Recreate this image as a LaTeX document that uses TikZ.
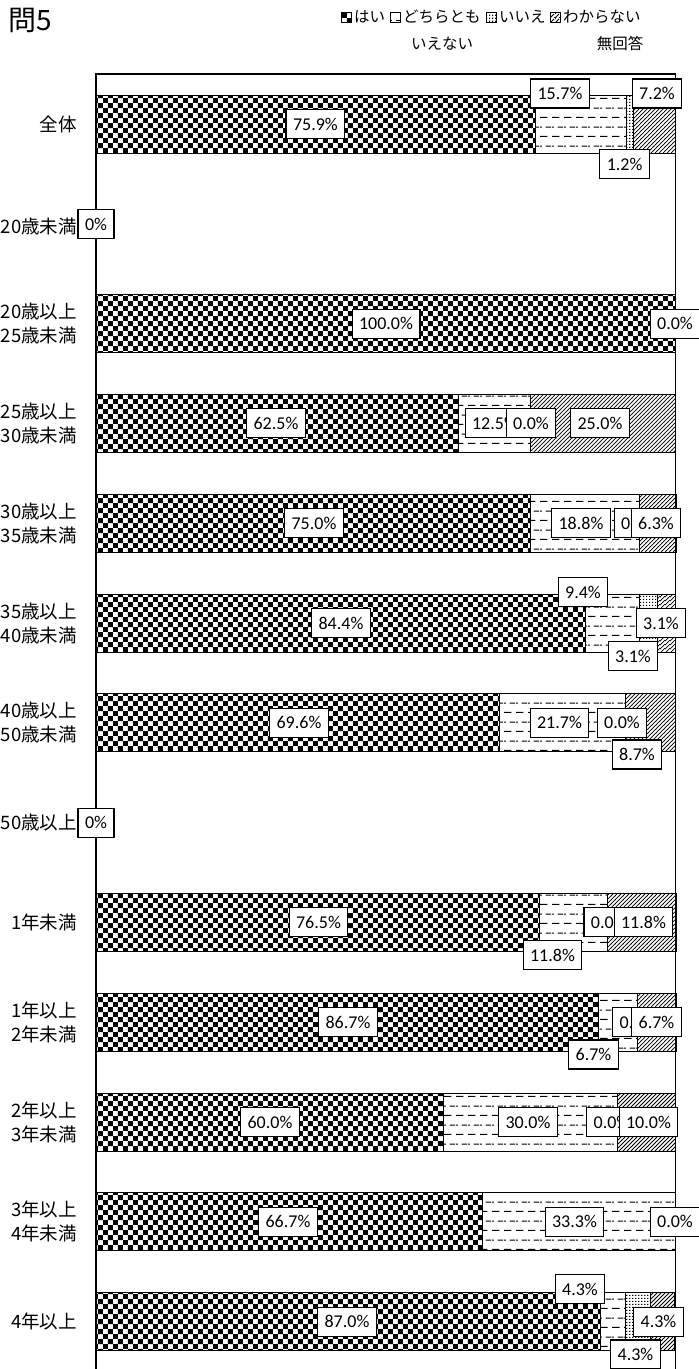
\documentclass[tikz,border=0pt]{standalone}
\usepackage{fontspec}
\setmainfont{Carlito}
\newfontfamily\jpf{Noto Sans CJK JP}
\usetikzlibrary{patterns.meta}

\pgfdeclarepattern{name=xchecker, type=uncolored,
  bottom left={\pgfpoint{0pt}{0pt}}, top right={\pgfpoint{10.4pt}{10.4pt}},
  tile size={\pgfpoint{10.4pt}{10.4pt}},
  code={\pgfpathrectangle{\pgfpoint{0pt}{0pt}}{\pgfpoint{5.2pt}{5.2pt}}%
        \pgfpathrectangle{\pgfpoint{5.2pt}{5.2pt}}{\pgfpoint{5.2pt}{5.2pt}}%
        \pgfusepath{fill}}}
\pgfdeclarepattern{name=xdash, type=uncolored,
  bottom left={\pgfpoint{0pt}{0pt}}, top right={\pgfpoint{12pt}{19.2pt}},
  tile size={\pgfpoint{12pt}{19.2pt}},
  code={\pgfsetlinewidth{1pt}%
        \pgfpathmoveto{\pgfpoint{0pt}{4.8pt}}\pgfpathlineto{\pgfpoint{8pt}{4.8pt}}%
        \pgfpathmoveto{\pgfpoint{6pt}{14.4pt}}\pgfpathlineto{\pgfpoint{12pt}{14.4pt}}%
        \pgfpathmoveto{\pgfpoint{0pt}{14.4pt}}\pgfpathlineto{\pgfpoint{2pt}{14.4pt}}%
        \pgfusepath{stroke}}}
\pgfdeclarepattern{name=xdots, type=uncolored,
  bottom left={\pgfpoint{0pt}{0pt}}, top right={\pgfpoint{2.7pt}{2.7pt}},
  tile size={\pgfpoint{2.7pt}{2.7pt}},
  code={\pgfpathrectangle{\pgfpoint{0pt}{0pt}}{\pgfpoint{1.35pt}{1.35pt}}%
        \pgfusepath{fill}}}
\pgfdeclarepattern{name=xhatch, type=uncolored,
  bottom left={\pgfpoint{0pt}{0pt}}, top right={\pgfpoint{4.4pt}{4.4pt}},
  tile size={\pgfpoint{4.4pt}{4.4pt}},
  code={\pgfsetlinewidth{0.8pt}%
        \pgfpathmoveto{\pgfpoint{0pt}{0pt}}\pgfpathlineto{\pgfpoint{4.4pt}{4.4pt}}%
        \pgfpathmoveto{\pgfpoint{-1pt}{3.4pt}}\pgfpathlineto{\pgfpoint{1pt}{5.4pt}}%
        \pgfpathmoveto{\pgfpoint{3.4pt}{-1pt}}\pgfpathlineto{\pgfpoint{5.4pt}{1pt}}%
        \pgfusepath{stroke}}}

\tikzset{
  seg/.style={draw=black, line width=1pt},
  lbl/.style={draw=black, fill=white, line width=1.1pt, inner xsep=7pt, inner ysep=2pt,
    minimum height=29pt, font=\fontsize{18}{21}\selectfont},
  cat/.style={anchor=east, align=right, inner sep=0pt, font=\jpf\fontsize{18.5}{24}\selectfont},
  leg/.style={anchor=west, inner sep=0pt, font=\jpf\fontsize{15.5}{18}\selectfont},
  legbox/.style={draw=black, line width=0.8pt},
  frame/.style={draw=black, line width=1.5pt}
}

\newcommand\drawrow[5]{%
  \pgfmathsetmacro\xa{96+5.795*#2}%
  \pgfmathsetmacro\xb{\xa+5.795*#3}%
  \pgfmathsetmacro\xc{\xb+5.795*#4}%
  \pgfmathsetmacro\xd{\xc+5.795*#5}%
  \ifdim #2pt>0pt \draw[seg,pattern=xchecker] (96,#1-29) rectangle (\xa,#1+29);\fi
  \ifdim #3pt>0pt \draw[seg,pattern=xdash] (\xa,#1-29) rectangle (\xb,#1+29);\fi
  \ifdim #4pt>0pt \draw[seg,pattern=xdots] (\xb,#1-29) rectangle (\xc,#1+29);\fi
  \ifdim #5pt>0pt \draw[seg,pattern=xhatch] (\xc,#1-29) rectangle (\xd,#1+29);\fi
}

\begin{document}
\begin{tikzpicture}[x=1pt,y=-1pt]
\useasboundingbox (0,0) rectangle (699,1369);

% title and legend
\node[anchor=west, inner sep=0pt, font=\jpf\fontsize{28}{30}\selectfont] (title) at (8,20) {問5};
\draw[legbox,pattern=xchecker] (341,12) rectangle (351,22);
\node[leg] (l1) at (354,17) {はい};
\draw[legbox,pattern=xdash] (390,12) rectangle (400,22);
\node[leg] (l2) at (403,17) {どちらとも};
\node[leg, anchor=center] (l2b) at (442,44) {いえない};
\draw[legbox,pattern=xdots] (486,12) rectangle (496,22);
\node[leg] (l3) at (499,17) {いいえ};
\draw[legbox,pattern=xhatch] (550,12) rectangle (560,22);
\node[leg] (l4) at (563,17) {わからない};
\node[leg, anchor=center] (l4b) at (620,44) {無回答};

% frame
\draw[frame] (96,1372) -- (96,74) -- (675.5,74) -- (675.5,1372);

% bars
\drawrow{124}{75.9}{15.7}{1.2}{7.2}
\drawrow{323.6}{100}{0}{0}{0}
\drawrow{423.4}{62.5}{12.5}{0}{25.0}
\drawrow{523.2}{75.0}{18.8}{0}{6.3}
\drawrow{623}{84.4}{9.4}{3.1}{3.1}
\drawrow{722.8}{69.6}{21.7}{0}{8.7}
\drawrow{922.4}{76.5}{11.8}{0}{11.8}
\drawrow{1022.2}{86.7}{6.7}{0}{6.7}
\drawrow{1122}{60.0}{30.0}{0}{10.0}
\drawrow{1221.8}{66.7}{33.3}{0}{0}
\drawrow{1321.6}{87.0}{4.3}{4.3}{4.3}

% category labels
\node[cat] (c0) at (77,124) {全体};
\node[cat] (c1) at (77,226) {20歳未満};
\node[cat] (c2) at (77,323.6) {20歳以上\\25歳未満};
\node[cat] (c3) at (77,423.4) {25歳以上\\30歳未満};
\node[cat] (c4) at (77,523.2) {30歳以上\\35歳未満};
\node[cat] (c5) at (77,623) {35歳以上\\40歳未満};
\node[cat] (c6) at (77,722.8) {40歳以上\\50歳未満};
\node[cat] (c7) at (77,822.6) {50歳以上};
\node[cat] (c8) at (77,922.4) {1年未満};
\node[cat] (c9) at (77,1022.2) {1年以上\\2年未満};
\node[cat] (c10) at (77,1122) {2年以上\\3年未満};
\node[cat] (c11) at (77,1221.8) {3年以上\\4年未満};
\node[cat] (c12) at (77,1321.6) {4年以上};

% value labels
\node[lbl] (a1) at (315.4,124) {75.9\%};
\node[lbl] (a2) at (560,93.5) {15.7\%};
\node[lbl] (a3) at (624.6,164) {1.2\%};
\node[lbl] (a4) at (657,93.5) {7.2\%};

\node[lbl] (b1) at (96,224) {0\%};

\node[lbl] (d1) at (386,323.6) {100.0\%};
\node[lbl] (d2) at (675,323.6) {0.0\%};

\node[lbl] (e1) at (276,423.4) {62.5\%};
\node[lbl] (e2) at (494.5,423.4) {12.5\%};
\node[lbl] (e3) at (531,423.4) {0.0\%};
\node[lbl] (e4) at (600,423.4) {25.0\%};

\node[lbl] (f1) at (314,523.2) {75.0\%};
\node[lbl] (f2) at (581,523.2) {18.8\%};
\node[lbl] (f3) at (639,523.2) {0.0\%};
\node[lbl] (f4) at (656,523.2) {6.3\%};

\node[lbl] (g1) at (341,623) {84.4\%};
\node[lbl] (g2) at (583,592) {9.4\%};
\node[lbl] (g3) at (633,656) {3.1\%};
\node[lbl] (g4) at (661,623) {3.1\%};

\node[lbl] (h1) at (299,722.8) {69.6\%};
\node[lbl] (h2) at (559.5,722.8) {21.7\%};
\node[lbl] (h3) at (622,722.8) {0.0\%};
\node[lbl] (h4) at (637,754.5) {8.7\%};

\node[lbl] (i1) at (96,822.6) {0\%};

\node[lbl] (j1) at (318.5,922.4) {76.5\%};
\node[lbl] (j2) at (552.5,955) {11.8\%};
\node[lbl] (j3) at (608.8,922.4) {0.0\%};
\node[lbl] (j4) at (643.5,922.4) {11.8\%};

\node[lbl] (k1) at (348,1022.2) {86.7\%};
\node[lbl] (k2) at (593.5,1054.5) {6.7\%};
\node[lbl] (k3) at (637.5,1022.2) {0.0\%};
\node[lbl] (k4) at (656.5,1022.2) {6.7\%};

\node[lbl] (m1) at (270,1122) {60.0\%};
\node[lbl] (m2) at (528,1122) {30.0\%};
\node[lbl] (m3) at (611.5,1122) {0.0\%};
\node[lbl] (m4) at (648.5,1122) {10.0\%};

\node[lbl] (n1) at (288,1221.8) {66.7\%};
\node[lbl] (n2) at (574.5,1221.8) {33.3\%};
\node[lbl] (n3) at (675,1221.8) {0.0\%};

\node[lbl] (p1) at (347,1321.6) {87.0\%};
\node[lbl] (p2) at (580,1289) {4.3\%};
\node[lbl] (p3) at (635.5,1354.5) {4.3\%};
\node[lbl] (p4) at (658.5,1321.6) {4.3\%};
\end{tikzpicture}
\end{document}
